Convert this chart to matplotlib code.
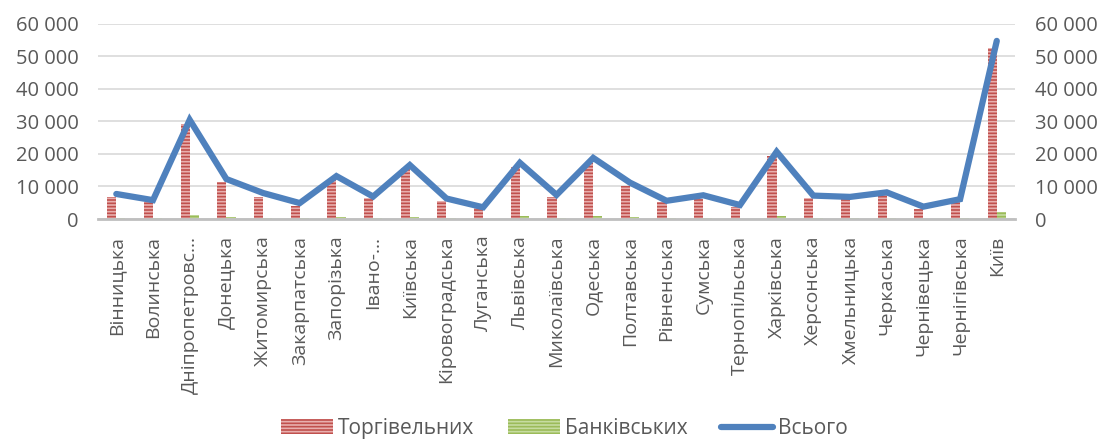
import matplotlib.pyplot as plt
import numpy as np
from matplotlib.ticker import FuncFormatter

plt.rcParams['font.family'] = ['Open Sans', 'DejaVu Sans']
plt.rcParams['hatch.linewidth'] = 1.2

regions = ['Вінницька', 'Волинська', 'Дніпропетровс…', 'Донецька', 'Житомирська',
           'Закарпатська', 'Запорізька', 'Івано-…', 'Київська', 'Кіровоградська',
           'Луганська', 'Львівська', 'Миколаївська', 'Одеська', 'Полтавська',
           'Рівненська', 'Сумська', 'Тернопільська', 'Харківська', 'Херсонська',
           'Хмельницька', 'Черкаська', 'Чернівецька', 'Чернігівська', 'Київ']

trade = [6900, 5300, 29200, 11500, 6900, 4100, 12000, 6400, 15800, 5600,
         3300, 16100, 6900, 17200, 10000, 5100, 6200, 3800, 19400, 6600,
         6100, 7400, 3200, 5300, 52500]
bank = [300, 200, 1200, 500, 250, 200, 600, 300, 500, 250,
        150, 900, 350, 1000, 500, 200, 250, 150, 900, 300,
        250, 300, 150, 200, 2200]
total = [7700, 5800, 30500, 12300, 8000, 4900, 13200, 6900, 16600, 6300,
         3600, 17300, 7400, 18800, 11200, 5600, 7300, 4300, 20700, 7200,
         6800, 8200, 3800, 6100, 54800]

red = '#C0504D'
green = '#9BBB59'
blue = '#4F81BD'
grey_txt = '#595959'

fig = plt.figure(figsize=(11.07, 4.41), dpi=100)
ax = fig.add_axes([0.0885, 0.5034, 0.8285, 0.4422])

x = np.arange(len(regions))
w = 0.25
ax.bar(x - w / 2, trade, w, color=red, edgecolor='#E8AFAE', linewidth=0,
       hatch='-----', label='Торгівельних', zorder=2)
ax.bar(x + w / 2, bank, w, color=green, edgecolor='#C6DCA0', linewidth=0,
       hatch='-----', label='Банківських', zorder=2)
ax.plot(x, total, color=blue, linewidth=4.5, solid_capstyle='round',
        solid_joinstyle='miter', label='Всього', zorder=3)

ax.set_xlim(-0.5, len(regions) - 0.5)
ax.set_ylim(0, 60000)
ax.set_yticks(np.arange(0, 60001, 10000))
fmt = FuncFormatter(lambda v, p: f'{int(v):,}'.replace(',', ' '))
ax.yaxis.set_major_formatter(fmt)
ax.grid(axis='y', color='#D9D9D9', linewidth=1.2, zorder=0)
ax.set_axisbelow(True)

for s in ['top', 'left', 'right']:
    ax.spines[s].set_visible(False)
ax.spines['bottom'].set_color('#BFBFBF')
ax.spines['bottom'].set_linewidth(2)

ax.set_xticks(x)
ax.set_xticklabels(regions, rotation=90, fontsize=14, color=grey_txt)
ax.tick_params(axis='x', length=0, pad=12)
ax.tick_params(axis='y', length=0, labelsize=14.5, labelcolor=grey_txt, pad=14)

ax2 = ax.twinx()
ax2.set_ylim(0, 60000)
ax2.set_yticks(np.arange(0, 60001, 10000))
ax2.yaxis.set_major_formatter(fmt)
ax2.tick_params(axis='y', length=0, labelsize=14.5, labelcolor=grey_txt, pad=14)
for s in ax2.spines.values():
    s.set_visible(False)

h, l = ax.get_legend_handles_labels()
order = [1, 2, 0]
fig.legend([h[i] for i in order], [l[i] for i in order], loc='lower center',
           bbox_to_anchor=(0.51, -0.038), ncol=3, frameon=False, fontsize=15,
           labelcolor=grey_txt, handlelength=2.5, handletextpad=0.25,
           columnspacing=1.6)

fig.savefig('out.png', dpi=100)
